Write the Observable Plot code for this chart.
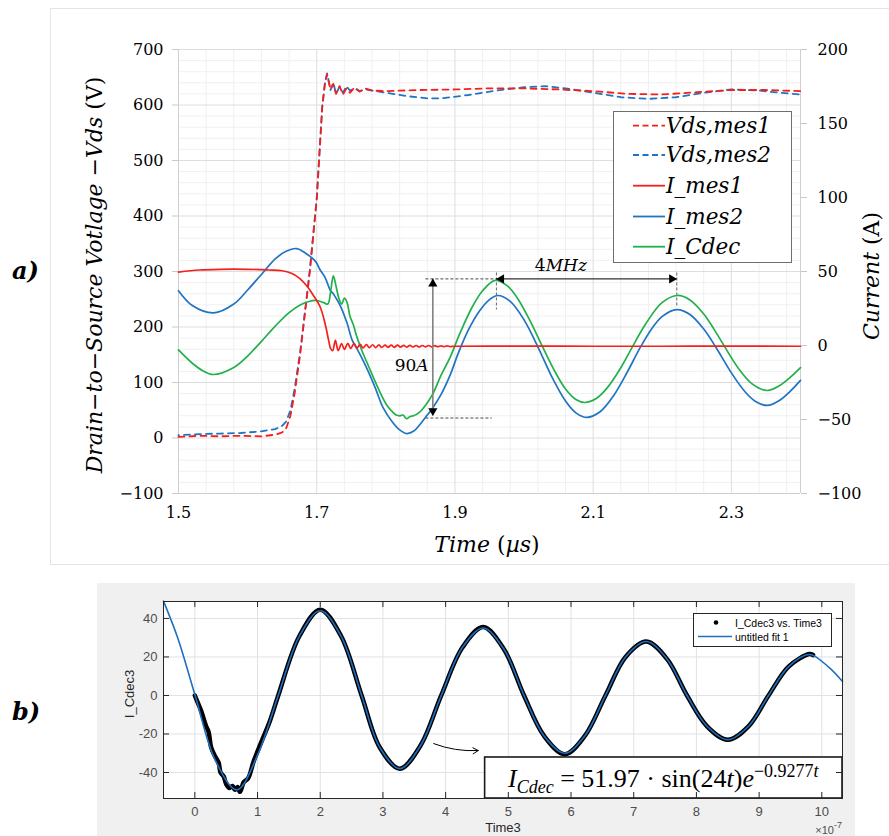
<!DOCTYPE html>
<html><head><meta charset="utf-8">
<script src="https://cdn.jsdelivr.net/npm/d3@7"></script>
<script src="https://cdn.jsdelivr.net/npm/@observablehq/plot@0.6"></script>
<style>
body{margin:0;background:#fff;}
#wrap{position:relative;width:889px;height:836px;overflow:hidden;background:#fff;}
#panelA{position:absolute;left:0;top:0;}
#panelB{position:absolute;left:97px;top:583px;}
.lab{position:absolute;font-family:"DejaVu Serif";font-style:italic;font-weight:bold;font-size:24px;line-height:28px;}
</style></head>
<body><div id="wrap"><div id="panelA"></div><div id="panelB"></div>
<div class="lab" style="left:12px;top:257px">a)</div>
<div class="lab" style="left:12px;top:698px">b)</div>
</div>
<script>
// ---------- Panel a) data (time in µs) ----------
const tVds1 = [1.5,1.53,1.56,1.59,1.62,1.64,1.65,1.656,1.662,1.668,1.676,1.683,1.69,1.70,1.708,1.712,1.715,1.72,1.724,1.728,1.733,1.738,1.743,1.748,1.755,1.762,1.77,1.78,1.8,1.85,1.9,1.95,2.0,2.05,2.1,2.15,2.2,2.25,2.3,2.35,2.4];
const vVds1 = [2,4,3,4,3,6,10,18,40,80,150,225,300,430,596,640,655,628,638,620,634,619,630,622,632,624,630,626,625,627,628,630,630,628,625,620,619,623,627,627,625];
const tVds2 = [1.5,1.53,1.56,1.59,1.62,1.64,1.65,1.656,1.662,1.668,1.676,1.683,1.69,1.70,1.708,1.712,1.715,1.72,1.724,1.728,1.733,1.738,1.743,1.748,1.755,1.762,1.77,1.78,1.8,1.83,1.86,1.88,1.92,1.96,2.0,2.03,2.06,2.1,2.14,2.18,2.22,2.26,2.3,2.34,2.37,2.4];
const vVds2 = [5,7,8,9,12,16,22,30,50,88,155,228,302,432,598,641,657,627,640,620,633,622,634,626,630,625,628,626,622,616,612,612,618,626,632,634,630,622,614,611,614,622,628,626,622,619];

const tImes1 = [1.5,1.53,1.56,1.6,1.63,1.65,1.665,1.676,1.686,1.695,1.705,1.712,1.717,1.72,1.723,1.727,1.731,1.736,1.740,1.745,1.749,1.754,1.758,1.763,1.767,1.772,1.776,1.781,1.785,1.79,1.794,1.799,1.803,1.808,1.812,1.817,1.821,1.826,1.830,1.835,1.839,1.844,1.848,1.853,1.857,1.862,1.866,1.871,1.875,1.88,1.884,1.889,1.893,1.9,2.0,2.1,2.2,2.3,2.4];
const iImes1 = [49.6,51,51.5,51.5,51,50.5,48.5,45,40,34,26,15,4,-2,-3.5,3.5,-3.4,1.3,-2.7,1.5,-2,1.2,-1.8,0.8,-1.6,0.6,-1.5,0.5,-1.4,0.4,-1.3,0.3,-1.2,0.2,-1.2,0.2,-1.1,0.1,-1.1,0.1,-1.0,0,-1.0,0,-0.9,0,-0.9,-0.1,-0.8,-0.2,-0.8,-0.3,-0.7,-0.5,-0.4,-0.5,-0.5,-0.4,-0.5];

const tImes2 = [1.5,1.52,1.551,1.58,1.6,1.62,1.64,1.655,1.671,1.685,1.698,1.705,1.712,1.72,1.724,1.728,1.734,1.744,1.751,1.758,1.767,1.775,1.785,1.796,1.81,1.82,1.83,1.84,1.85,1.86,1.868,1.88,1.893,1.905,1.92,1.935,1.95,1.962,1.98,2.0,2.023,2.04,2.06,2.075,2.091,2.11,2.13,2.15,2.167,2.185,2.2,2.221,2.24,2.26,2.278,2.3,2.32,2.335,2.352,2.37,2.385,2.4];
const iImes2 = [37,27,22,28,37.5,48,58.5,63.5,65.5,62,57,51,46,37,35,32,27,15,4,-2,-10,-18,-29,-42,-52,-57,-59.5,-58,-53,-47,-42,-33,-20,-5,11,23,31,33.8,29.8,17.3,-3.9,-21,-37.5,-45.5,-48.6,-44.8,-33.6,-17.4,-2.3,11.5,19.7,24.3,21,11.1,-1.5,-18.5,-31.4,-37.8,-40.5,-37,-31,-23.6];

const tICdec = [1.5,1.52,1.535,1.55,1.58,1.6,1.62,1.64,1.66,1.676,1.69,1.70,1.71,1.716,1.72,1.724,1.728,1.732,1.736,1.740,1.744,1.748,1.753,1.758,1.765,1.775,1.79,1.801,1.81,1.815,1.82,1.825,1.83,1.835,1.84,1.849,1.858,1.868,1.88,1.893,1.907,1.925,1.94,1.958,1.975,1.99,2.01,2.027,2.045,2.06,2.075,2.088,2.105,2.12,2.14,2.156,2.175,2.2,2.222,2.24,2.26,2.275,2.29,2.31,2.33,2.352,2.37,2.385,2.4];
const iICdec = [-3,-12,-17,-19.6,-14.8,-7.1,2.8,13.1,22.2,27.4,29.9,30.4,29,28,36,47,40,32,28,32,29,20,14,6,-3,-14,-30,-40,-45,-47,-47.5,-47,-49.5,-48,-47.5,-45,-40,-32.7,-20,-8,8,26,37,44,40.6,32.3,15.5,-1.1,-17.9,-29.4,-36.5,-38.5,-35.6,-28.8,-15,-1.6,13.9,29.1,33.8,30.8,21.3,10.9,-0.6,-15.3,-25.9,-30.4,-27,-21.5,-14.9];

const voltTicks = [-100,0,100,200,300,400,500,600,700];
const currentTicks = [-100,-50,0,50,100,150,200];
const timeTicks = [1.5,1.7,1.9,2.1,2.3];
const legendA = ["Vds,mes1","Vds,mes2","I_mes1","I_mes2","I_Cdec"];

// annotations (time µs, current A)
const amp90 = {t: 1.868, cTop: 45, cBot: -47.5, label: "90", unit: "A"};
const guideTop = {t1: 1.858, t2: 1.96, c: 45};
const guideBot = {t1: 1.858, t2: 1.954, c: -49};
const freqArrow = {t1: 1.96, t2: 2.221, c: 45, label: "4MHz"};
const peakGuides = [{t: 1.96, c1: 49, c2: 24}, {t: 2.221, c1: 49, c2: 26}];

// ---------- Panel b) data (time ×1e-7 s) ----------
const tFit = [-0.5,-0.27,0,0.33,0.67,1.0,1.33,1.67,2.0,2.33,2.66,2.95,3.27,3.6,3.93,4.27,4.6,4.93,5.25,5.57,5.9,6.22,6.55,6.87,7.2,7.53,7.85,8.17,8.5,8.83,9.15,9.47,9.8,10.1,10.33];
const yFit = [49,29.6,0.5,-34,-49,-31,0,31,44,31,0,-27,-38,-26,0,25,35,24,0,-21,-30,-21,0,20,28,19,0,-16,-23,-16,0,15,21.3,15,7.3];
const tDat = [0,0.05,0.1,0.18,0.22,0.26,0.33,0.38,0.41,0.46,0.5,0.55,0.6,0.64,0.68,0.72,0.78,0.85,0.94,1.05,1.2,1.33,1.67,2.0,2.33,2.66,2.95,3.27,3.6,3.93,4.27,4.6,4.93,5.25,5.57,5.9,6.22,6.55,6.87,7.2,7.53,7.85,8.17,8.5,8.83,9.15,9.47,9.8,9.86];
const yDat = [0,-4,-8,-16,-19,-27,-32,-35,-40,-42,-46,-48,-47,-49,-47.5,-50,-45,-43,-34,-25,-13,0,31,44.5,31,0,-27,-38,-26,0,25,35.5,24,0,-21,-30.5,-21,0,20,28,19,0,-16,-23,-16,0,15,21.5,21];
const bxTicks = [0,1,2,3,4,5,6,7,8,9,10];
const byTicks = [-40,-20,0,20,40];
const legendB = ["I_Cdec3 vs. Time3","untitled fit 1"];
const fBox = [{x1: 4.63, x2: 10.33, y1: -53.5, y2: -32.2}];
const fArrow = [{x1: 3.81, y1: -25, x2: 4.52, y2: -28.6}];

// ---------- helpers ----------
const RED = "#f5201c", BLUE = "#1f74c4", GREEN = "#22b04b";
const toV = c => -100 + (c + 100) * 8 / 3;
const toC = v => (v + 100) * 3 / 8 - 100;
const mfmt = n => n < 0 ? "\u2212" + Math.abs(n) : String(n);
const minorV = d3.range(-100, 701, 20).filter(v => v % 100 !== 0);
const minorT = d3.range(0, 23).map(k => +(1.5 + 0.04 * k).toFixed(2)).filter(t => ![1.5,1.7,1.9,2.1,2.3].includes(t));

const chartA = Plot.plot({
  width: 889, height: 565,
  marginLeft: 178, marginRight: 89, marginTop: 49, marginBottom: 72,
  x: {domain: [1.5, 2.4]},
  y: {domain: [-100, 700]},
  style: {background: "transparent", fontFamily: "DejaVu Serif", fontSize: "16px", color: "#000", overflow: "visible"},
  marks: [
    Plot.ruleY(minorV, {stroke: "#f0f0f0"}),
    Plot.ruleX(minorT, {stroke: "#f0f0f0"}),
    Plot.ruleY(voltTicks, {stroke: "#dedede"}),
    Plot.ruleX(timeTicks, {stroke: "#dedede"}),
    Plot.ruleX([1.5, 2.4], {stroke: "#cfcfcf"}),
    Plot.ruleY([-100], {stroke: "#cfcfcf"}),
    Plot.axisY({anchor: "left", ticks: voltTicks, tickSize: 6, tickPadding: 9, stroke: "#c8c8c8", label: null, tickFormat: mfmt}),
    Plot.axisY(currentTicks.map(toV), {anchor: "right", tickSize: 6, tickPadding: 11, stroke: "#c8c8c8", label: null, tickFormat: v => mfmt(Math.round(toC(v)))}),
    Plot.axisX({anchor: "bottom", ticks: timeTicks, tickSize: 0, tickPadding: 13, label: null, tickFormat: d3.format(".1f")}),
    // annotations
    Plot.ruleY([guideTop], {x1: "t1", x2: "t2", y: d => toV(d.c), stroke: "#333", strokeWidth: 0.9, strokeDasharray: "3,2"}),
    Plot.ruleY([guideBot], {x1: "t1", x2: "t2", y: d => toV(d.c), stroke: "#333", strokeWidth: 0.9, strokeDasharray: "3,2"}),
    Plot.ruleX(peakGuides, {x: "t", y1: d => toV(d.c1), y2: d => toV(d.c2), stroke: "#555", strokeWidth: 0.9, strokeDasharray: "3,2"}),
    // data lines
    Plot.line(tVds2, {x: tVds2, y: vVds2, stroke: BLUE, strokeWidth: 1.8, strokeDasharray: "6,5", strokeDashoffset: 5.5}),
    Plot.line(tVds1, {x: tVds1, y: vVds1, stroke: RED, strokeWidth: 1.8, strokeDasharray: "6,5"}),
    Plot.line(tImes2, {x: tImes2, y: iImes2.map(toV), stroke: BLUE, strokeWidth: 1.7, curve: "catmull-rom"}),
    Plot.line(tICdec, {x: tICdec, y: iICdec.map(toV), stroke: GREEN, strokeWidth: 1.7, curve: "catmull-rom"}),
    Plot.line(tImes1, {x: tImes1, y: iImes1.map(toV), stroke: RED, strokeWidth: 1.7, curve: "catmull-rom"}),
    // arrows
    Plot.ruleX([amp90], {x: "t", y1: d => toV(d.cTop), y2: d => toV(d.cBot), stroke: "#808080", strokeWidth: 1.6}),
    Plot.ruleY([freqArrow], {x1: "t1", x2: "t2", y: d => toV(d.c), stroke: "#000", strokeWidth: 1}),
    Plot.dot([amp90], {x: "t", y: d => toV(d.cTop), symbol: "triangle", r: 3.4, fill: "#000", stroke: "none", dy: 5}),
    Plot.dot([amp90], {x: "t", y: d => toV(d.cBot), symbol: "triangle", r: 3.4, fill: "#000", stroke: "none", dy: -5, rotate: 180}),
    Plot.dot([freqArrow], {x: "t1", y: d => toV(d.c), symbol: "triangle", r: 3.4, fill: "#000", stroke: "none", dx: 5, rotate: -90}),
    Plot.dot([freqArrow], {x: "t2", y: d => toV(d.c), symbol: "triangle", r: 3.4, fill: "#000", stroke: "none", dx: -5, rotate: 90})
  ]
});
document.getElementById("panelA").appendChild(chartA);

const ts = d3.select(chartA);
const sx = chartA.scale("x"), sy = chartA.scale("y");
ts.insert("rect", ":first-child").attr("x", 50.5).attr("y", 8.5).attr("width", 900).attr("height", 556)
  .attr("fill", "none").attr("stroke", "#e4e4e4");

function addText(sel, x, y, parts, opts = {}) {
  const t = sel.append("text").attr("x", x).attr("y", y)
    .attr("text-anchor", opts.anchor || "middle")
    .style("font-family", opts.family || "DejaVu Serif")
    .style("font-size", (opts.size || 20) + "px")
    .attr("fill", opts.fill || "#000");
  if (opts.transform) t.attr("transform", opts.transform).attr("x", null).attr("y", null);
  for (const p of parts) {
    const s = t.append("tspan").text(p.s);
    if (p.i) s.style("font-style", "italic");
    if (p.size) s.style("font-size", p.size + "px");
    if (p.dy) s.attr("dy", p.dy);
  }
  return t;
}

// axis titles
addText(ts, 0, 0, [{s: "Drain\u2212to\u2212Source Votlage \u2212Vds ", i: true}, {s: "(V)"}], {size: 22, transform: "translate(102,275) rotate(-90)"});
addText(ts, 0, 0, [{s: "Current ", i: true}, {s: "(A)"}], {size: 22, transform: "translate(879,276) rotate(-90)"});
addText(ts, 487, 552, [{s: "Time ", i: true}, {s: "("}, {s: "\u00b5s", i: true}, {s: ")"}], {size: 22});

// annotation labels
addText(ts, sx.apply(1.838), sy.apply(toV(-13.5)) + 6, [{s: amp90.label}, {s: amp90.unit, i: true}], {size: 17});
addText(ts, sx.apply(2.054), sy.apply(toV(54)) + 6, [{s: "4"}, {s: "MHz", i: true}], {size: 17});

// legend (panel a)
const lg = ts.append("g");
lg.append("rect").attr("x", 613.5).attr("y", 111.5).attr("width", 178).attr("height", 151).attr("fill", "#fff").attr("stroke", "#6e6e6e");
const lgStyle = [
  {c: RED, dash: "6,3.5"}, {c: BLUE, dash: "6,3.5"}, {c: RED}, {c: BLUE}, {c: GREEN}
];
const rowY = [125.7, 155, 185.7, 216.5, 246.7];
legendA.forEach((name, i) => {
  const y = rowY[i];
  const ln = lg.append("line").attr("x1", 633).attr("x2", 665).attr("y1", y).attr("y2", y)
    .attr("stroke", lgStyle[i].c).attr("stroke-width", 1.8);
  if (lgStyle[i].dash) ln.attr("stroke-dasharray", lgStyle[i].dash);
  addText(lg, 666, y + 7, [{s: name, i: true}], {anchor: "start", size: 21.5});
});

// ---------- Panel b ----------
const chartB = Plot.plot({
  width: 758, height: 253,
  marginLeft: 66, marginRight: 13, marginTop: 18, marginBottom: 38,
  x: {domain: [-0.5, 10.33]},
  y: {domain: [-53.5, 48.8]},
  style: {background: "#f0f0f0", fontFamily: "Liberation Sans, Arial, sans-serif", fontSize: "13px", color: "#4d4d4d", overflow: "visible"},
  marks: [
    Plot.frame({fill: "#fff", stroke: "none"}),
    Plot.ruleX(bxTicks, {stroke: "#e2e2e2"}),
    Plot.ruleY(byTicks, {stroke: "#e2e2e2"}),
    Plot.line(tDat, {x: tDat, y: yDat, stroke: "#000", strokeWidth: 4.5, curve: "catmull-rom", strokeLinejoin: "round", strokeLinecap: "round"}),
    Plot.line(tFit, {x: tFit, y: yFit, stroke: "#1f6fc0", strokeWidth: 1.6, curve: "catmull-rom"}),
    Plot.arrow(fArrow, {x1: "x1", y1: "y1", x2: "x2", y2: "y2", bend: -12, stroke: "#000", strokeWidth: 1, headLength: 9}),
    Plot.rect(fBox, {x1: "x1", x2: "x2", y1: "y1", y2: "y2", fill: "#fff", stroke: "#1a1a1a", strokeWidth: 1.6}),
    Plot.frame({stroke: "#262626", strokeWidth: 1}),
    Plot.tickX(bxTicks, {x: d => d, stroke: "#262626", insetTop: 191}),
    Plot.tickX(bxTicks, {x: d => d, stroke: "#262626", insetBottom: 191}),
    Plot.tickY(byTicks, {y: d => d, stroke: "#262626", insetRight: 673}),
    Plot.tickY(byTicks, {y: d => d, stroke: "#262626", insetLeft: 673}),
    Plot.axisX(bxTicks, {anchor: "bottom", tickSize: 0, tickPadding: 8, label: null, tickFormat: d => String(d)}),
    Plot.axisY(byTicks, {anchor: "left", tickSize: 0, tickPadding: 6, label: null, tickFormat: d => String(d)})
  ]
});
document.getElementById("panelB").appendChild(chartB);
const bs = d3.select(chartB);
const bx = chartB.scale("x"), by = chartB.scale("y");

addText(bs, 0, 0, [{s: "I_Cdec3"}], {family: "Liberation Sans", size: 13, fill: "#262626", transform: "translate(37,111) rotate(-90)"});
addText(bs, 406, 249, [{s: "Time3"}], {family: "Liberation Sans", size: 13, fill: "#262626"});
addText(bs, 745, 251, [{s: "\u00d710", size: 11}, {s: "-7", size: 9, dy: -6}], {family: "Liberation Sans", size: 11, fill: "#4d4d4d", anchor: "end"});

// formula
const fx = (bx.apply(fBox[0].x1) + bx.apply(fBox[0].x2)) / 2;
const fy = by.apply(fBox[0].y2) + 30;
addText(bs, fx, fy, [
  {s: "I", i: true}, {s: "Cdec", i: true, size: 18, dy: 6},
  {s: " = 51.97 \u00b7 sin(24", dy: -6}, {s: "t", i: true}, {s: ")"}, {s: "e", i: true},
  {s: "\u22120.9277", size: 18, dy: -10}, {s: "t", i: true, size: 18}
], {family: "Liberation Serif", size: 26});

// legend (panel b)
const lb = bs.append("g");
lb.append("rect").attr("x", 596.5).attr("y", 30.5).attr("width", 138).attr("height", 33).attr("fill", "#fff").attr("stroke", "#262626");
lb.append("circle").attr("cx", 619).attr("cy", 39.5).attr("r", 2.3).attr("fill", "#000");
lb.append("line").attr("x1", 601).attr("x2", 635).attr("y1", 53.5).attr("y2", 53.5).attr("stroke", "#1f6fc0").attr("stroke-width", 1.6);
addText(lb, 638, 43.5, [{s: legendB[0]}], {family: "Liberation Sans", size: 10.5, anchor: "start", fill: "#000"});
addText(lb, 638, 57.5, [{s: legendB[1]}], {family: "Liberation Sans", size: 10.5, anchor: "start", fill: "#000"});
</script>
</body></html>
